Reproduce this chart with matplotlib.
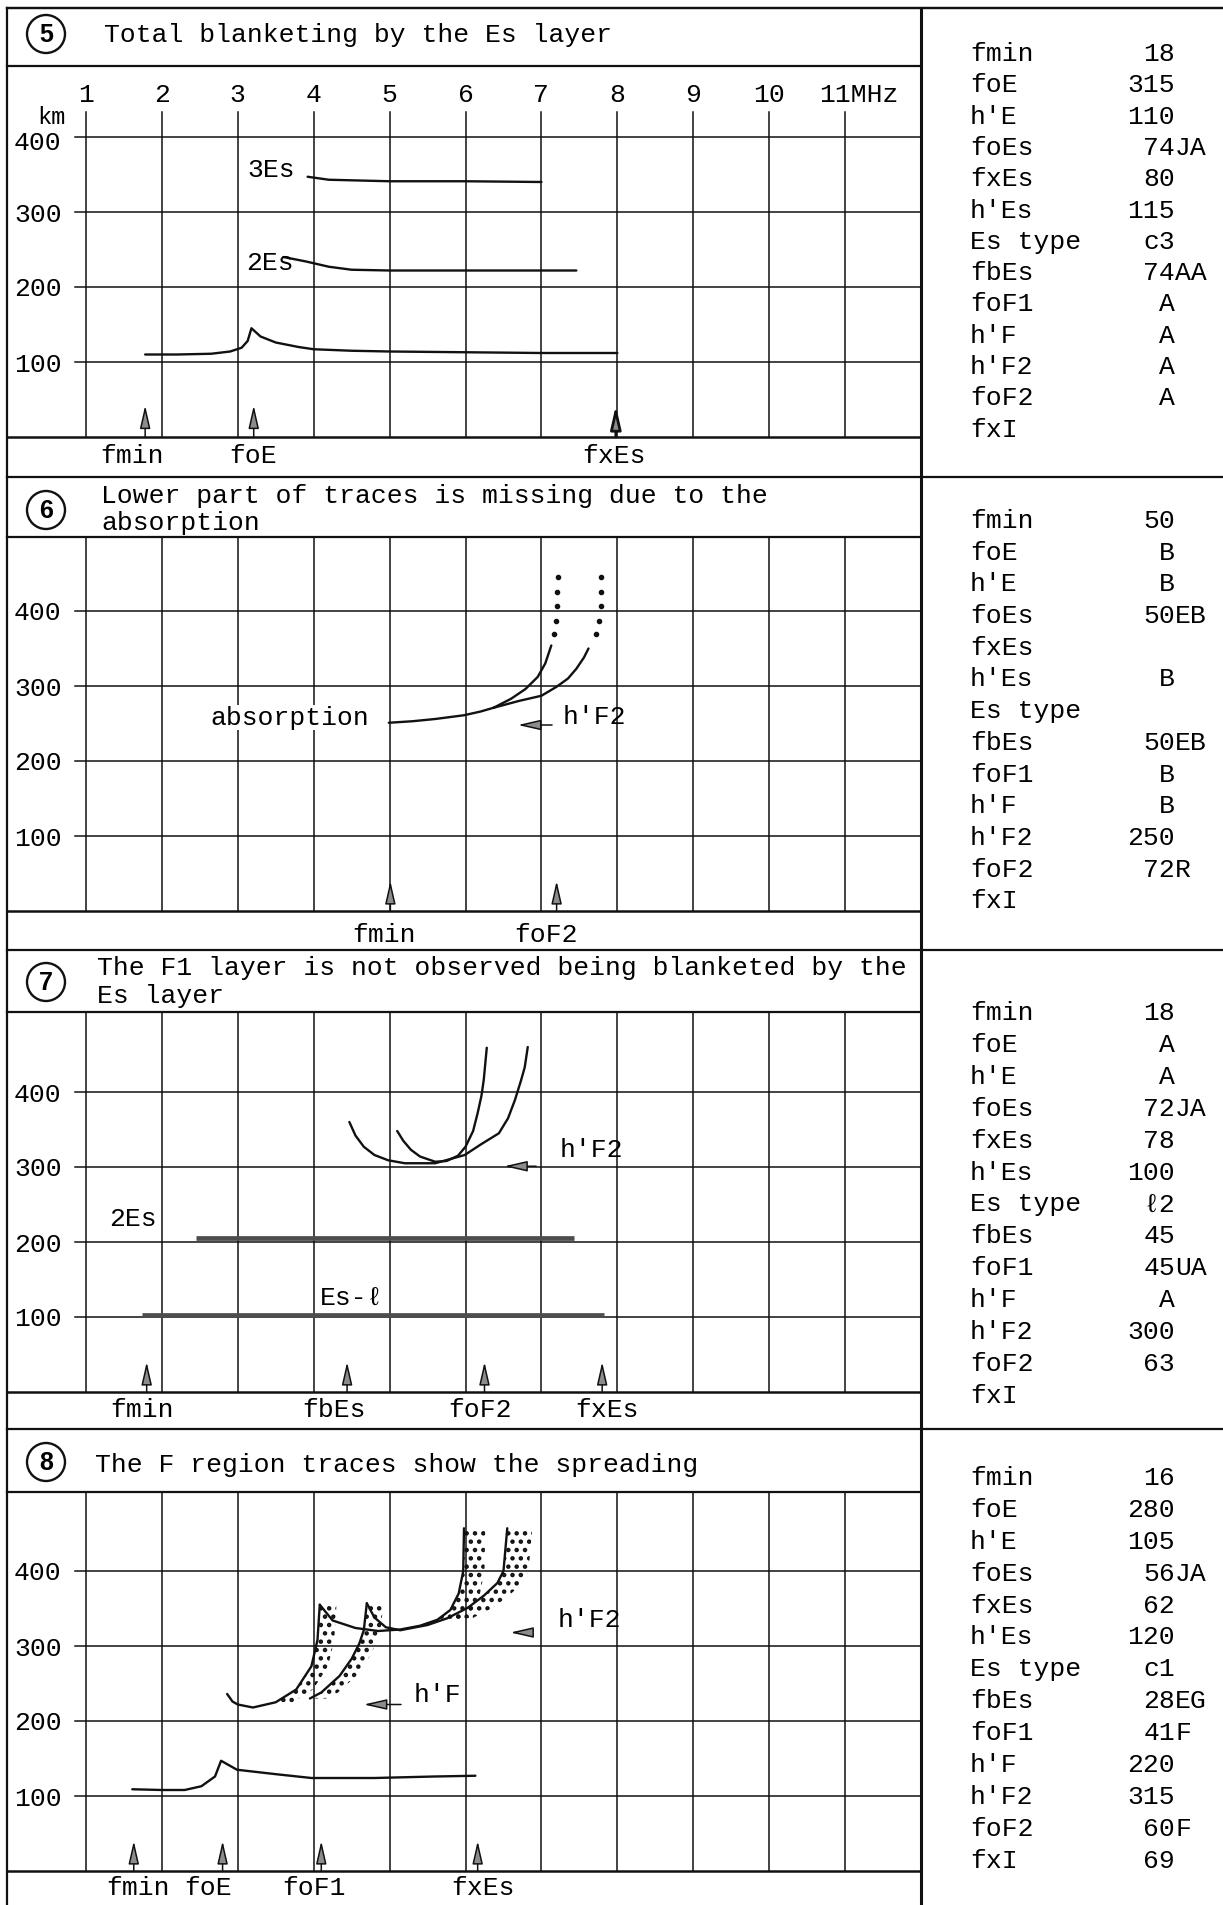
import re
import numpy as np
import matplotlib
matplotlib.use("Agg")
import matplotlib.pyplot as plt
from matplotlib.patches import Circle

plt.rcParams['font.family'] = ['Liberation Mono', 'DejaVu Sans']
plt.rcParams['hatch.linewidth'] = 2.0

# =========================
# 1. Tabla de parametros (columna derecha)
# =========================
param_names = ["fmin", "foE", "h'E", "foEs", "fxEs", "h'Es", "Es type",
               "fbEs", "foF1", "h'F", "h'F2", "foF2", "fxI"]
vals_5 = ["18", "315", "110", "74JA", "80", "115", "c3", "74AA", "A", "A", "A", "A", ""]
vals_6 = ["50", "B", "B", "50EB", "", "B", "", "50EB", "B", "B", "250", "72R", ""]
vals_7 = ["18", "A", "A", "72JA", "78", "100", "ℓ2", "45", "45UA", "A", "300", "63", ""]
vals_8 = ["16", "280", "105", "56JA", "62", "120", "c1", "28EG", "41F", "220", "315", "60F", "69"]

panel_nums = ["5", "6", "7", "8"]
titles = [["Total blanketing by the Es layer"],
          ["Lower part of traces is missing due to the", "absorption"],
          ["The F1 layer is not observed being blanketed by the", "Es layer"],
          ["The F region traces show the spreading"]]

freq_lines = [1, 2, 3, 4, 5, 6, 7, 8, 9, 10, 11]
freq_labels = ["1", "2", "3", "4", "5", "6", "7", "8", "9", "10", "11MHz"]
height_ticks = [100, 200, 300, 400]

# =========================
# 2. Trazas (MHz, km)
# =========================
# panel 5
p5_E_f = [1.78, 2.2, 2.65, 2.9, 3.05, 3.13, 3.18, 3.3, 3.5, 3.8, 4.0, 4.5, 5.0, 6.0, 7.0, 8.0]
p5_E_h = [110, 110, 111, 114, 119, 128, 145, 134, 126, 120, 117, 115, 114, 113, 112, 112]
p5_2Es_f = [3.6, 3.9, 4.2, 4.5, 5.0, 6.0, 7.46]
p5_2Es_h = [240, 234, 227, 223, 222, 222, 222]
p5_3Es_f = [3.92, 4.2, 5.0, 6.0, 7.0]
p5_3Es_h = [347, 343, 341, 341, 340]
p5_arrow_f = [1.78, 3.21, 7.98]
p5_names = ["fmin", "foE", "fxEs"]
p5_name_f = [1.61, 3.2, 7.96]

# panel 6
p6_main_f = [4.99, 5.3, 5.6, 5.98, 6.2, 6.37]
p6_main_h = [251, 253, 256, 261, 266, 271]
p6_o_f = [6.37, 6.6, 6.79, 6.95, 7.05, 7.13]
p6_o_h = [271, 283, 296, 312, 330, 354]
p6_x_f = [6.37, 6.7, 7.0, 7.2, 7.35, 7.46, 7.56, 7.62]
p6_x_h = [271, 280, 287, 299, 310, 323, 338, 350]
p6_dots_o_f = [7.17, 7.19, 7.2, 7.21, 7.22]
p6_dots_o_h = [369, 387, 407, 426, 446]
p6_dots_x_f = [7.72, 7.76, 7.78, 7.78, 7.79]
p6_dots_x_h = [369, 387, 407, 426, 446]
p6_arrow_f = [5.01, 7.2]
p6_names = ["fmin", "foF2"]
p6_name_f = [4.93, 7.06]

# panel 7
p7_esl_f = [1.74, 7.83]
p7_esl_h = [103, 103]
p7_2es_f = [2.45, 7.43]
p7_2es_h = [206, 206]
p7_a_f = [4.47, 4.55, 4.66, 4.8, 4.98, 5.2, 5.6, 5.99, 6.2, 6.44, 6.56, 6.65, 6.73, 6.78, 6.82]
p7_a_h = [360, 342, 327, 316, 309, 305, 305, 316, 330, 345, 365, 389, 415, 433, 460]
p7_b_f = [5.1, 5.18, 5.28, 5.4, 5.6, 5.75, 5.9, 6.0, 6.1, 6.16, 6.21, 6.24, 6.28]
p7_b_h = [348, 335, 323, 314, 307, 308, 315, 327, 348, 372, 395, 416, 459]
p7_arrow_f = [1.8, 4.44, 6.25, 7.8]
p7_names = ["fmin", "fbEs", "foF2", "fxEs"]
p7_name_f = [1.74, 4.27, 6.19, 7.86]

# panel 8
p8_E_f = [1.61, 2.0, 2.3, 2.52, 2.7, 2.78, 2.99, 3.51, 3.97, 4.8, 5.59, 6.13]
p8_E_h = [109, 108, 108, 113, 126, 147, 135, 129, 124, 124, 126, 127]
p8_f1o_f = [2.86, 2.93, 3.0, 3.2, 3.5, 3.77, 3.97, 4.05, 4.08]
p8_f1o_h = [236, 226, 222, 218, 225, 242, 273, 308, 355]
p8_f2o_f = [4.08, 4.25, 4.55, 4.85, 5.14, 5.4, 5.63, 5.8, 5.91, 5.97, 5.98]
p8_f2o_h = [355, 334, 324, 320, 322, 327, 335, 348, 370, 400, 457]
p8_f1x_f = [3.95, 4.1, 4.34, 4.5, 4.6, 4.66, 4.7]
p8_f1x_h = [230, 238, 260, 283, 303, 321, 357]
p8_f2x_f = [4.7, 4.8, 4.95, 5.14, 5.5, 5.76, 6.03, 6.24, 6.42, 6.5, 6.55]
p8_f2x_h = [357, 338, 325, 321, 328, 337, 351, 367, 384, 400, 457]
p8_arrow_f = [1.63, 2.8, 4.1, 6.16]
p8_names = ["fmin", "foE", "foF1", "fxEs"]
p8_name_f = [1.69, 2.61, 4.0, 6.23]

# =========================
# 3. Figura y marco
# =========================
W, H = 1223, 1905
FS = 19
lc = '#111111'
fig = plt.figure(figsize=(W / 100, H / 100), dpi=100)
base = fig.add_axes([0, 0, 1, 1])
base.set_xlim(0, W)
base.set_ylim(H, 0)
base.axis('off')

X_LEFT, X_SEP = 7, 921
# (arriba, fin del titulo, fin del grafico, fin del panel) en pixeles
rows = [(8, 66, 437, 477), (477, 537, 911, 949), (950, 1012, 1392, 1428), (1429, 1492, 1871, 1905)]
PX_PER_KM = 0.75
F0, F1 = -0.04, 12.0

base.plot([X_LEFT, W], [8, 8], color=lc, lw=1.6)
base.plot([X_LEFT, X_LEFT], [8, H], color=lc, lw=1.6)
base.plot([X_SEP, X_SEP], [8, H], color=lc, lw=2.2)
for top, tb, bb, end in rows:
    base.plot([X_LEFT, W], [top, top], color=lc, lw=1.6)
    base.plot([X_LEFT, X_SEP], [tb, tb], color=lc, lw=1.6)
    base.plot([X_LEFT, X_SEP], [bb, bb], color=lc, lw=1.8)

circle_y = [34, 510, 982, 1462]
title_x = [104, 101, 97, 95]
title_base = [[42], [503, 530], [975, 1003], [1472]]
for i in range(4):
    base.add_patch(Circle((46, circle_y[i]), 19, fill=False, lw=1.7, ec=lc))
    base.text(46, circle_y[i] + 1, panel_nums[i], ha='center', va='center',
              fontsize=18, fontweight='bold', family='Liberation Sans')
    for line, yb in zip(titles[i], title_base[i]):
        base.text(title_x[i], yb, line, ha='left', va='baseline', fontsize=FS)

# columna derecha
all_vals = [vals_5, vals_6, vals_7, vals_8]
row0 = [53, 520, 1012, 1477]
row_step = [31.3, 31.7, 31.9, 31.9]
for i in range(4):
    for j, (name, val) in enumerate(zip(param_names, all_vals[i])):
        yb = row0[i] + j * row_step[i] + 8
        base.text(970, yb, name, ha='left', va='baseline', fontsize=FS)
        m = re.match(r'(\d*)(.*)', val)
        if m.group(1):
            base.text(1175, yb, m.group(1), ha='right', va='baseline', fontsize=FS)
            base.text(1175, yb, m.group(2), ha='left', va='baseline', fontsize=FS)
        elif val:
            base.text(1175, yb, val, ha='right', va='baseline', fontsize=FS)

# =========================
# 4. Ejes de cada panel
# =========================
axes = []
for top, tb, bb, end in rows:
    ax = fig.add_axes([X_LEFT / W, 1 - bb / H, (X_SEP - X_LEFT) / W, (bb - tb) / H])
    ax.set_xlim(F0, F1)
    ax.set_ylim(0, (bb - tb) / PX_PER_KM)
    ax.axis('off')
    axes.append(ax)


def draw_grid(ax, vtop, first_label_shift=0):
    for h in height_ticks:
        ax.plot([0.86, F1], [h, h], color=lc, lw=1.1, zorder=1)
        dy = first_label_shift if h == 400 else 0
        ax.text(0.68, h + dy, str(h), ha='right', va='center_baseline', fontsize=FS)
    for f in freq_lines:
        ax.plot([f, f], [0, vtop], color=lc, lw=1.1, zorder=1)


arrow_style = '-|>,head_length=1.4,head_width=0.32'


def up_arrow(ax, f, tip=40, lw=1.1):
    ax.annotate('', xy=(f, tip), xytext=(f, 0),
                arrowprops=dict(arrowstyle=arrow_style, lw=lw, ec=lc, fc='0.55',
                                shrinkA=0, shrinkB=0))


def left_arrow(ax, f_head, f_tail, h):
    ax.annotate('', xy=(f_head, h), xytext=(f_tail, h),
                arrowprops=dict(arrowstyle=arrow_style, lw=1.1, ec=lc, fc='0.55',
                                shrinkA=0, shrinkB=0))


def names_below(ax, fs, names, y):
    for f, n in zip(fs, names):
        ax.text(f, y, n, ha='center', va='baseline', fontsize=FS, clip_on=False)


trace = dict(color=lc, lw=1.7, solid_capstyle='round', solid_joinstyle='round', zorder=3)

# ---- panel 5 ----
ax = axes[0]
draw_grid(ax, 433, first_label_shift=-4)
for f, lab in zip(freq_lines, freq_labels):
    fx = f + 0.18 if lab.endswith('MHz') else f
    ax.text(fx, 456, lab, ha='center', va='center', fontsize=FS)
ax.text(0.54, 418, 'km', ha='center', va='baseline', fontsize=17)
ax.plot(p5_E_f, p5_E_h, **trace)
ax.plot(p5_2Es_f, p5_2Es_h, **trace)
ax.plot(p5_3Es_f, p5_3Es_h, **trace)
ax.text(3.44, 356, '3Es', ha='center', va='center', fontsize=FS)
ax.text(3.43, 232, '2Es', ha='center', va='center', fontsize=FS)
for k, f in enumerate(p5_arrow_f):
    up_arrow(ax, f, 42, lw=2.0 if k == 2 else 1.1)
names_below(ax, p5_name_f, p5_names, -35)

# ---- panel 6 ----
ax = axes[1]
draw_grid(ax, 600)
ax.plot(p6_main_f, p6_main_h, **trace)
ax.plot(p6_o_f, p6_o_h, **trace)
ax.plot(p6_x_f, p6_x_h, **trace)
ax.plot(p6_dots_o_f, p6_dots_o_h, ls='none', marker='o', ms=3, color=lc)
ax.plot(p6_dots_x_f, p6_dots_x_h, ls='none', marker='o', ms=3, color=lc)
ax.text(3.69, 258, 'absorption', ha='center', va='center', fontsize=FS,
        bbox=dict(fc='white', ec='none', pad=0.5))
left_arrow(ax, 6.69, 7.14, 248)
ax.text(7.7, 258, "h'F2", ha='center', va='center', fontsize=FS)
for f in p6_arrow_f:
    up_arrow(ax, f, 40)
names_below(ax, p6_name_f, p6_names, -42)

# ---- panel 7 ----
ax = axes[2]
draw_grid(ax, 600)
ax.plot(p7_esl_f, p7_esl_h, color='0.3', lw=3.4, solid_capstyle='butt', zorder=3)
ax.plot(p7_2es_f, p7_2es_h, color='0.3', lw=3.4, solid_capstyle='butt', zorder=3)
ax.plot(p7_a_f, p7_a_h, **trace)
ax.plot(p7_b_f, p7_b_h, **trace)
ax.text(1.62, 231, '2Es', ha='center', va='center', fontsize=FS)
ax.text(4.5, 125, 'Es-ℓ', ha='center', va='center', fontsize=FS)
left_arrow(ax, 6.51, 6.93, 301)
ax.text(7.66, 323, "h'F2", ha='center', va='center', fontsize=FS)
for f in p7_arrow_f:
    up_arrow(ax, f, 40)
names_below(ax, p7_name_f, p7_names, -33)

# ---- panel 8 ----
ax = axes[3]
draw_grid(ax, 600)
ax.plot(p8_E_f, p8_E_h, **trace)
ax.plot(p8_f1o_f, p8_f1o_h, **trace)
ax.plot(p8_f2o_f, p8_f2o_h, **trace)
ax.plot(p8_f1x_f, p8_f1x_h, **trace)
ax.plot(p8_f2x_f, p8_f2x_h, **trace)
# dispersion (spread F) como punteado a la derecha de cada traza
spread = [(p8_f1o_f[4:], p8_f1o_h[4:], 0.22),
          (p8_f1x_f, p8_f1x_h, 0.22),
          (p8_f2o_f[6:], p8_f2o_h[6:], 0.28),
          (p8_f2x_f[5:], p8_f2x_h[5:], 0.33)]
for sf, sh, w in spread:
    sf = np.array(sf)
    ax.fill_betweenx(sh, sf, sf + w, hatch='..', facecolor='none',
                     edgecolor=lc, linewidth=0, zorder=2)
left_arrow(ax, 4.66, 5.15, 222)
ax.text(5.63, 235, "h'F", ha='center', va='center', fontsize=FS)
left_arrow(ax, 6.59, 6.88, 318)
ax.text(7.63, 335, "h'F2", ha='center', va='center', fontsize=FS)
for f in p8_arrow_f:
    up_arrow(ax, f, 40)
names_below(ax, p8_name_f, p8_names, -32)

fig.savefig('out.png', dpi=100, facecolor='white')
